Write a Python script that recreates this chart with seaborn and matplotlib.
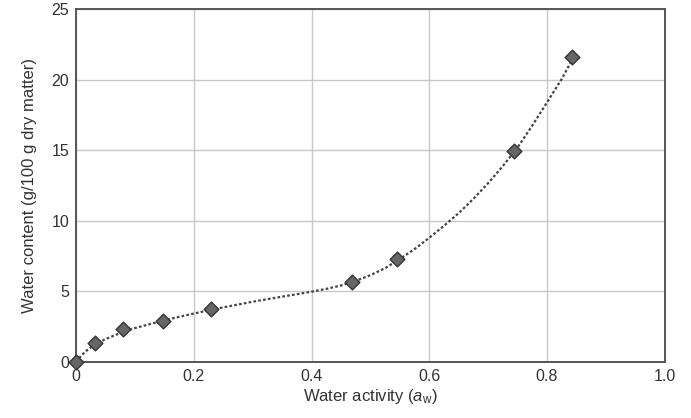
import numpy as np
import pandas as pd
import seaborn as sns
import matplotlib.pyplot as plt

# measured sorption points (water activity, g water / 100 g dry matter)
aw_points = [0.0, 0.033, 0.079, 0.147, 0.229, 0.469, 0.546, 0.744, 0.843]
wc_points = [0.0, 1.32, 2.34, 2.90, 3.75, 5.69, 7.27, 14.96, 21.62]

# fitted isotherm
aw_curve = [0.0, 0.01, 0.02, 0.033, 0.05, 0.075, 0.1, 0.125, 0.15, 0.175,
            0.2, 0.225, 0.25, 0.275, 0.3, 0.325, 0.35, 0.375, 0.4, 0.425,
            0.45, 0.475, 0.5, 0.525, 0.55, 0.575, 0.6, 0.625, 0.65, 0.675,
            0.7, 0.725, 0.75, 0.775, 0.8, 0.825, 0.845]
wc_curve = [0.0, 0.5, 0.88, 1.25, 1.62, 2.05, 2.4, 2.68, 2.95, 3.2,
            3.43, 3.66, 3.87, 4.07, 4.27, 4.45, 4.63, 4.8, 4.98, 5.18,
            5.42, 5.75, 6.15, 6.65, 7.3, 8.0, 8.8, 9.65, 10.55, 11.56,
            12.67, 13.88, 15.2, 16.75, 18.4, 20.05, 21.6]

x_ticks = [0.0, 0.2, 0.4, 0.6, 0.8, 1.0]
x_tick_labels = ["0", "0.2", "0.4", "0.6", "0.8", "1.0"]
y_ticks = [0, 5, 10, 15, 20, 25]

sns.set_theme(style="whitegrid")
plt.rcParams["font.family"] = ["Liberation Sans", "DejaVu Sans"]
plt.rcParams["mathtext.fontset"] = "custom"
plt.rcParams["mathtext.rm"] = "Liberation Sans"
plt.rcParams["mathtext.it"] = "Liberation Sans:italic"

fig = plt.figure(figsize=(6.91, 4.18), dpi=100)
ax = fig.add_axes([0.110, 0.134, 0.852, 0.844])

pts = pd.DataFrame({"aw": aw_points, "wc": wc_points})
curve = pd.DataFrame({"aw": aw_curve, "wc": wc_curve})

sns.lineplot(data=curve, x="aw", y="wc", ax=ax, color="#444444",
             linewidth=1.6, linestyle=(0, (1.2, 1.0)), sort=False, zorder=3)
sns.scatterplot(data=pts, x="aw", y="wc", ax=ax, marker="D", s=56,
                color="#666666", edgecolor="#333333", linewidth=1.0,
                zorder=4, clip_on=False)

ax.set_xlim(0, 1.0)
ax.set_ylim(0, 25)
ax.set_xticks(x_ticks)
ax.set_xticklabels(x_tick_labels)
ax.set_yticks(y_ticks)

ax.grid(True, color="#c8c8c8", linewidth=1.0)
for sp in ax.spines.values():
    sp.set_color("#555555")
    sp.set_linewidth(1.4)
ax.tick_params(length=0, labelsize=11.5, colors="#333333", pad=5)

ax.set_xlabel(r"Water activity ($a_{\mathrm{w}}$)", fontsize=12,
              color="#333333", labelpad=2)
ax.set_ylabel("Water content (g/100 g dry matter)", fontsize=12,
              color="#333333", labelpad=10)

fig.savefig("out.png", dpi=100)
